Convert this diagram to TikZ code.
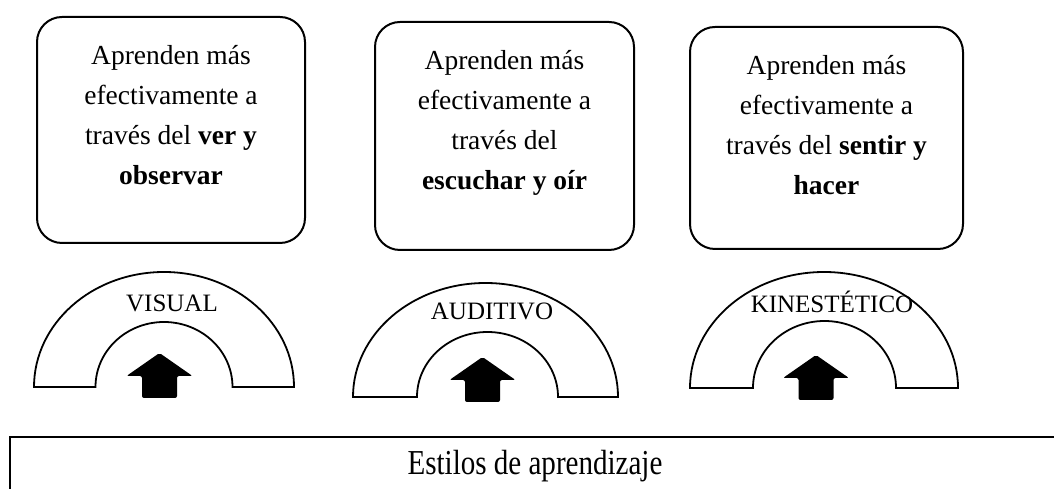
\documentclass[tikz,border=0pt]{standalone}
\usepackage{fontspec}
\setmainfont{Liberation Serif}
\newfontfamily\narrowserif{Liberation Serif}[FakeStretch=0.83]
\usetikzlibrary{positioning}
\tikzset{
  card/.style={rectangle, draw, line width=2pt, rounded corners=25pt},
  cardtext/.style={align=center, inner sep=0pt, font=\fontsize{27.5}{40}\selectfont},
  archlabel/.style={inner sep=0pt, anchor=base, font=\fontsize{25}{30}\selectfont},
  arch/.style={draw, line width=1.8pt, fill=white},
  uparrow/.pic={
    \fill[rounded corners=2pt] (-17.5,0) -- (-17.5,22) -- (-33,22) -- (0,45)
      -- (33,22) -- (17.5,22) -- (17.5,0) -- cycle;
  },
}

\begin{document}
\begin{tikzpicture}[x=1pt, y=1pt]
  \clip (0,0) rectangle (1054,489);

  % Descriptions
  \node[card, minimum width=268pt, minimum height=226pt] (visbox) at (171,359) {};
  \node[cardtext, below=29pt of visbox.north] (vistext) {Aprenden más\\efectivamente a\\través del \textbf{ver y}\\\textbf{observar}};
  \node[card, minimum width=259pt, minimum height=228pt] (audbox) at (504.5,353) {};
  \node[cardtext, below=29pt of audbox.north] (audtext) {Aprenden más\\efectivamente a\\través del\\\textbf{escuchar y oír}};
  \node[card, minimum width=273pt, minimum height=222pt] (kinbox) at (826.5,351) {};
  \node[cardtext, below=29pt of kinbox.north] (kintext) {Aprenden más\\efectivamente a\\través del \textbf{sentir y}\\\textbf{hacer}};

  % Arches
  \draw[arch] (34,102) arc[start angle=180, end angle=0, x radius=130, y radius=115]
    -- (232.5,102) arc[start angle=0, end angle=180, x radius=68.5, y radius=65] -- cycle;
  \draw[arch] (353,92) arc[start angle=180, end angle=0, x radius=132.5, y radius=114]
    -- (558,92) arc[start angle=0, end angle=180, x radius=70.5, y radius=65] -- cycle;
  \draw[arch] (690,101) arc[start angle=180, end angle=0, x radius=134, y radius=116]
    -- (896,101) arc[start angle=0, end angle=180, x radius=71.5, y radius=67] -- cycle;

  \node[archlabel] (vislabel) at (172,177) {VISUAL};
  \node[archlabel] (audlabel) at (492,169) {AUDITIVO};
  \node[archlabel] (kinlabel) at (832,176) {KINESTÉTICO};

  \pic at (159.5,91) {uparrow};
  \pic at (482.5,87) {uparrow};
  \pic at (816,89) {uparrow};

  % Bottom
  \node[draw, line width=2pt, minimum width=1050pt, minimum height=58pt, inner sep=0pt,
    font=\narrowserif\fontsize{35}{40}\selectfont] (estilos) at (535,23) {Estilos de aprendizaje};

\end{tikzpicture}
\end{document}
